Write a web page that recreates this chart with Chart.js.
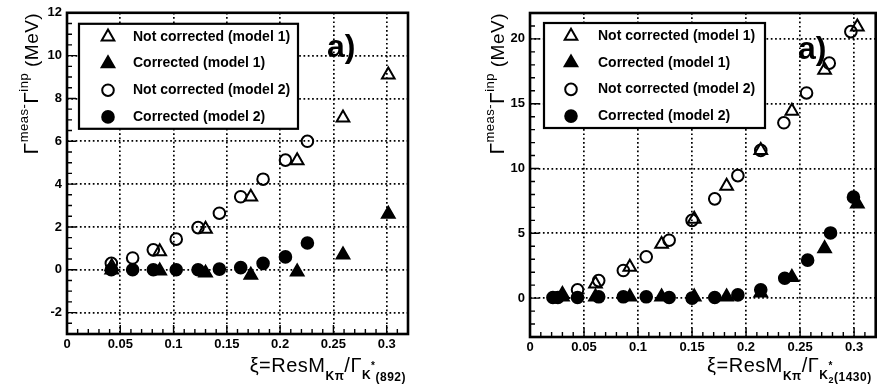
<!DOCTYPE html>
<html>
<head>
<meta charset="utf-8">
<script src="https://cdn.jsdelivr.net/npm/chart.js@4.4.1/dist/chart.umd.min.js"></script>
<style>
  body { margin: 0; background: #fff; }
  .panel { position: absolute; top: 0; }
</style>
</head>
<body>
<div class="panel" style="left:0"><canvas id="chartK892" width="440" height="385"></canvas></div>
<div class="panel" style="left:440px"><canvas id="chartK1430" width="445" height="385"></canvas></div>
<script>
const FONT = '"Liberation Sans", Arial, Helvetica, sans-serif';

const seriesLabels = ['Not corrected (model 1)', 'Corrected (model 1)', 'Not corrected (model 2)', 'Corrected (model 2)'];

// left panel: K*(892)
const k892_xModel1 = [0.042, 0.087, 0.130, 0.1725, 0.216, 0.259, 0.3015];
const k892_notCorr1 = [0.15, 0.85, 1.9, 3.4, 5.1, 7.1, 9.1];
const k892_corr1 = [0.0, -0.05, -0.15, -0.25, -0.1, 0.7, 2.6];
const k892_xModel2 = [0.0416, 0.0616, 0.081, 0.1025, 0.123, 0.143, 0.163, 0.184, 0.205, 0.2256];
const k892_notCorr2 = [0.3, 0.55, 0.93, 1.43, 1.97, 2.64, 3.41, 4.23, 5.12, 6.0];
const k892_corr2 = [0.0, 0.0, 0.0, 0.0, 0.0, 0.03, 0.1, 0.3, 0.6, 1.25];
const k892_xTicks = [0, 0.05, 0.1, 0.15, 0.2, 0.25, 0.3];
const k892_yTicks = [-2, 0, 2, 4, 6, 8, 10, 12];

// right panel: K*2(1430)
const k1430_xModel1 = [0.030, 0.0606, 0.0924, 0.1218, 0.152, 0.182, 0.2136, 0.2424, 0.2727, 0.303];
const k1430_notCorr1 = [0.3, 1.1, 2.4, 4.16, 6.1, 8.65, 11.4, 14.43, 17.6, 20.94];
const k1430_corr1 = [0.1, 0.1, 0.1, 0.1, 0.1, 0.1, 0.4, 1.6, 3.83, 7.28];
const k1430_xNotCorr2 = [0.044, 0.0636, 0.0864, 0.1076, 0.1288, 0.150, 0.171, 0.1924, 0.2136, 0.235, 0.256, 0.277, 0.297];
const k1430_notCorr2 = [0.64, 1.35, 2.13, 3.19, 4.47, 6.0, 7.66, 9.45, 11.4, 13.53, 15.83, 18.13, 20.56];
const k1430_xCorr2 = [0.0212, 0.0258, 0.044, 0.0636, 0.0864, 0.1076, 0.1288, 0.150, 0.171, 0.1924, 0.2136, 0.2358, 0.257, 0.2782, 0.2994];
const k1430_corr2 = [0.05, 0.05, 0.05, 0.1, 0.1, 0.1, 0.05, 0.0, 0.05, 0.25, 0.64, 1.53, 2.93, 5.03, 7.79];
const k1430_xTicks = [0, 0.05, 0.1, 0.15, 0.2, 0.25, 0.3];
const k1430_yTicks = [0, 5, 10, 15, 20];

const markerStyles = [
  { shape: 'triangle', filled: false },
  { shape: 'triangle', filled: true },
  { shape: 'circle', filled: false },
  { shape: 'circle', filled: true }
];

function pts(xs, ys) {
  return xs.map((x, i) => ({ x: x, y: ys[i] }));
}

function drawMarker(ctx, shape, filled, x, y) {
  ctx.beginPath();
  if (shape === 'circle') {
    ctx.arc(x, y, 5.8, 0, Math.PI * 2);
  } else {
    const r = 7.3;
    for (let k = 0; k < 3; k++) {
      const a = k * 2 * Math.PI / 3;
      const px = x + Math.sin(a) * r, py = y - Math.cos(a) * r;
      if (k === 0) ctx.moveTo(px, py); else ctx.lineTo(px, py);
    }
    ctx.closePath();
  }
  if (filled) ctx.fill();
  ctx.lineWidth = 2;
  ctx.stroke();
}

// text made of pieces with their own size / baseline shift
function richWidth(ctx, parts) {
  let w = 0;
  parts.forEach(p => {
    ctx.font = (p.bold ? 'bold ' : '') + p.size + 'px ' + FONT;
    if (!p.noAdvance) w += ctx.measureText(p.t).width;
  });
  return w;
}
function drawRich(ctx, parts, x, y) {
  let cx = x;
  parts.forEach(p => {
    ctx.font = (p.bold ? 'bold ' : '') + p.size + 'px ' + FONT;
    ctx.fillText(p.t, cx + (p.dx || 0), y + (p.dy || 0));
    if (!p.noAdvance) cx += ctx.measureText(p.t).width;
  });
}

const decorPlugin = {
  id: 'decor',
  afterDraw(chart, args, o) {
    const ctx = chart.ctx;
    const a = chart.chartArea;
    const xs = chart.scales.x, ys = chart.scales.y;
    ctx.save();
    ctx.strokeStyle = '#000';
    ctx.fillStyle = '#000';
    ctx.setLineDash([]);

    // inward ticks, minor and major
    ctx.lineWidth = 1.4;
    ctx.beginPath();
    let n = Math.round((xs.max - xs.min) / o.minorX);
    for (let i = 0; i <= n; i++) {
      const v = xs.min + i * o.minorX;
      const major = Math.abs(v / o.majorX - Math.round(v / o.majorX)) < 1e-6;
      const px = xs.getPixelForValue(v);
      ctx.moveTo(px, a.bottom);
      ctx.lineTo(px, a.bottom - (major ? 9 : 5));
    }
    n = Math.round((ys.max - ys.min) / o.minorY);
    for (let i = 0; i <= n; i++) {
      const v = ys.min + i * o.minorY;
      const major = Math.abs(v / o.majorY - Math.round(v / o.majorY)) < 1e-6;
      const py = ys.getPixelForValue(v);
      ctx.moveTo(a.left, py);
      ctx.lineTo(a.left + (major ? 9 : 5), py);
    }
    ctx.stroke();

    // frame
    ctx.lineWidth = 2.6;
    ctx.strokeRect(a.left, a.top, a.right - a.left, a.bottom - a.top);

    // legend box
    const bx = a.left + o.legend.dx, by = a.top + o.legend.dy;
    ctx.fillStyle = '#fff';
    ctx.fillRect(bx, by, o.legend.w, o.legend.h);
    ctx.fillStyle = '#000';
    ctx.lineWidth = 2.2;
    ctx.strokeRect(bx, by, o.legend.w, o.legend.h);
    ctx.textBaseline = 'middle';
    chart.data.datasets.forEach((ds, i) => {
      const ry = by + 12 + i * 26.7;
      drawMarker(ctx, markerStyles[i].shape, markerStyles[i].filled, bx + o.legend.markX, ry + 1);
      ctx.font = 'bold 14px ' + FONT;
      ctx.fillText(ds.label, bx + o.legend.textX, ry + 1);
    });

    // panel tag
    ctx.textBaseline = 'alphabetic';
    ctx.font = 'bold 32px ' + FONT;
    ctx.fillText('a)', o.tag.x, o.tag.y);

    // x title, right aligned to the frame
    ctx.letterSpacing = '0.5px';
    const wx = richWidth(ctx, o.xTitle);
    drawRich(ctx, o.xTitle, a.right - o.xTitleInset - wx, o.xTitleY);

    // y title, rotated, ending at the top of the frame
    const wy = richWidth(ctx, o.yTitle);
    ctx.translate(o.yTitleX, a.top + wy);
    ctx.rotate(-Math.PI / 2);
    drawRich(ctx, o.yTitle, 0, 0);
    ctx.restore();
  }
};

const yTitleParts = [
  { t: 'Γ', size: 21 },
  { t: 'meas', size: 13, dy: -10 },
  { t: '-', size: 13, dy: -10 },
  { t: 'Γ', size: 21 },
  { t: 'inp', size: 13, dy: -10 },
  { t: ' (MeV)', size: 19 }
];

function makeChart(id, datasets, xTicks, yTicks, cfg) {
  const ctx = document.getElementById(id).getContext('2d');
  return new Chart(ctx, {
    type: 'scatter',
    data: {
      datasets: datasets.map((d, i) => ({
        label: seriesLabels[i],
        data: d,
        pointStyle: markerStyles[i].shape,
        pointRadius: markerStyles[i].shape === 'circle' ? 5.8 : 7.3,
        pointBorderWidth: 2,
        borderColor: '#000',
        backgroundColor: markerStyles[i].filled ? '#000' : 'rgba(0,0,0,0)',
        showLine: false
      }))
    },
    options: {
      responsive: false,
      animation: false,
      layout: { padding: cfg.padding },
      scales: {
        x: {
          type: 'linear',
          min: 0,
          max: 0.32,
          afterBuildTicks: s => { s.ticks = xTicks.map(v => ({ value: v })); },
          afterFit: s => { s.height = cfg.xHeight; },
          ticks: {
            color: '#000',
            padding: 3,
            autoSkip: false,
            maxRotation: 0,
            font: { family: FONT, size: 13, weight: 'bold' },
            callback: v => String(Math.round(v * 100) / 100)
          },
          grid: { color: '#000', lineWidth: 1.7, drawTicks: false },
          border: { display: false, dash: [1.7, 2.6] }
        },
        y: {
          type: 'linear',
          min: cfg.yMin,
          max: cfg.yMax,
          afterBuildTicks: s => { s.ticks = yTicks.map(v => ({ value: v })); },
          afterFit: s => { s.width = cfg.yWidth; },
          ticks: {
            color: '#000',
            padding: 5,
            font: { family: FONT, size: 13, weight: 'bold' }
          },
          grid: { color: '#000', lineWidth: 1.7, drawTicks: false },
          border: { display: false, dash: [1.7, 2.6] }
        }
      },
      plugins: {
        legend: { display: false },
        tooltip: { enabled: false },
        decor: cfg.decor
      }
    },
    plugins: [decorPlugin]
  });
}

makeChart('chartK892', [
  pts(k892_xModel1, k892_notCorr1),
  pts(k892_xModel1, k892_corr1),
  pts(k892_xModel2, k892_notCorr2),
  pts(k892_xModel2, k892_corr2)
], k892_xTicks, k892_yTicks, {
  padding: { top: 12, right: 32, left: 0, bottom: 0 },
  xHeight: 51, yWidth: 67, yMin: -3, yMax: 12,
  decor: {
    minorX: 0.01, majorX: 0.05, minorY: 0.5, majorY: 2,
    legend: { dx: 12, dy: 11, w: 219, h: 105, markX: 29, textX: 54 },
    tag: { x: 327, y: 57 },
    xTitle: [
      { t: 'ξ=ResM', size: 20 },
      { t: 'Kπ', size: 12, bold: true, dy: 8 },
      { t: '/Γ', size: 20 },
      { t: 'K', size: 12, bold: true, dy: 7 },
      { t: '*', size: 10, bold: true, dy: -3 },
      { t: '(892)', size: 12, bold: true, dy: 9 }
    ],
    xTitleInset: 2, xTitleY: 372,
    yTitle: yTitleParts, yTitleX: 38
  }
});

makeChart('chartK1430', [
  pts(k1430_xModel1, k1430_notCorr1),
  pts(k1430_xModel1, k1430_corr1),
  pts(k1430_xNotCorr2, k1430_notCorr2),
  pts(k1430_xCorr2, k1430_corr2)
], k1430_xTicks, k1430_yTicks, {
  padding: { top: 13, right: 3, left: 0, bottom: 0 },
  xHeight: 48, yWidth: 90, yMin: -3, yMax: 22,
  decor: {
    minorX: 0.01, majorX: 0.05, minorY: 1, majorY: 5,
    legend: { dx: 14, dy: 10, w: 221, h: 105, markX: 27, textX: 54 },
    tag: { x: 358, y: 59 },
    xTitle: [
      { t: 'ξ=ResM', size: 20 },
      { t: 'Kπ', size: 12, bold: true, dy: 8 },
      { t: '/Γ', size: 20 },
      { t: 'K', size: 12, bold: true, dy: 7 },
      { t: '*', size: 10, bold: true, dy: -3, noAdvance: true },
      { t: '2', size: 9, bold: true, dy: 11 },
      { t: '(1430)', size: 12, bold: true, dy: 9 }
    ],
    xTitleInset: 4, xTitleY: 372,
    yTitle: yTitleParts, yTitleX: 64
  }
});
</script>
</body>
</html>
